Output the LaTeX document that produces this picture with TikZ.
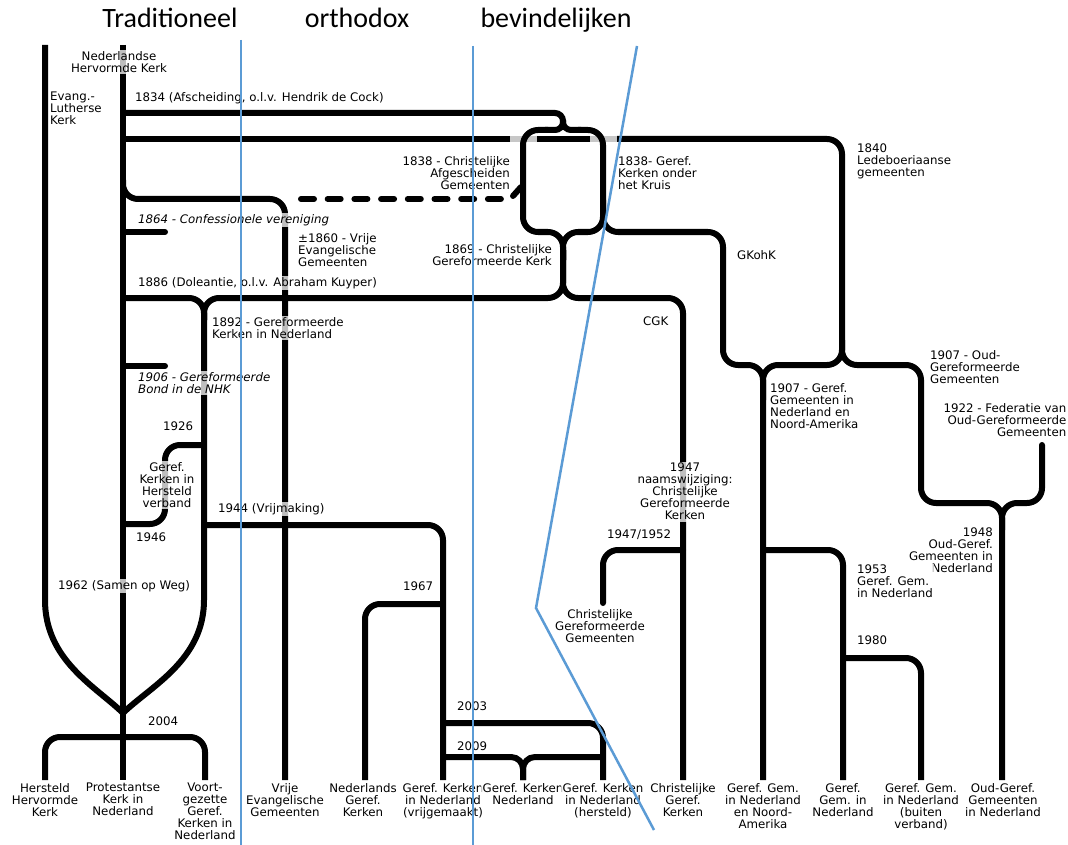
\documentclass[tikz,border=0pt]{standalone}
\usepackage{fontspec}
\setmainfont{DejaVu Sans}
\newfontfamily\headfont{Carlito}
\newcommand\lblfont{\fontsize{11.8}{12}\selectfont}
\definecolor{bl}{HTML}{5B9BD5}
\definecolor{halo}{gray}{0.78}
\begin{document}
\begin{tikzpicture}[x=1pt,y=-1pt,
  ln/.style={line width=6pt},
  rc/.style={line width=6pt, rounded corners=15pt},
  lb/.style={font=\lblfont, inner sep=1.5pt, fill=white, fill opacity=0.75, text opacity=1},
  lbl/.style={lb, anchor=north west, align=left},
  lbr/.style={lb, anchor=north east, align=right},
  lbc/.style={lb, anchor=north, align=center},
  bline/.style={line width=2.5pt, draw=bl},
  hd/.style={font=\headfont\fontsize{28}{30}\selectfont, anchor=base, inner sep=0pt}]
\fill[white] (0,0) rectangle (1068,845);
\useasboundingbox (0,0) rectangle (1068,845);

% main trunks
\draw[ln] (45,45) -- (45,600) .. controls (45,660) and (95,686) .. (123,713);
\draw[ln] (123,45) -- (123,780);
\draw[ln] (204,310) -- (204,600) .. controls (204,660) and (151,686) .. (123,713);

% 1840 Ledeboer line
\draw[ln] (123,139) -- (510,139);
\draw[ln, halo] (510,139) -- (537,139);
\draw[ln] (537,139) -- (590,139);
\draw[ln, halo] (590,139) -- (617,139);
\draw[rc] (617,139) -- (842,139) -- (842,365) -- (763,365) -- (763,400);
\draw[rc] (842,340) -- (842,365) -- (921,365) -- (921,503) -- (1002,503) -- (1002,780);
\draw[rc, line cap=round] (1042,445) -- (1042,503) -- (1002,503) -- (1002,530);

% 1834 and bracket
\draw[ln, rounded corners=8pt] (123,113) -- (563,113) -- (563,130) -- (545,130);
\draw[ln, rounded corners=8pt] (563,120) -- (563,130) -- (581,130);
\draw[rc] (548,130) -- (523,130) -- (523,232) -- (563,232) -- (563,260);
\draw[rc] (578,130) -- (603,130) -- (603,232) -- (563,232) -- (563,260);
% GKohK
\draw[rc] (603,200) -- (603,232) -- (723,232) -- (723,365) -- (763,365) -- (763,780);
% 1886 / CGK
\draw[rc] (123,298) -- (204,298) -- (204,320);
\draw[rc] (563,250) -- (563,298) -- (204,298) -- (204,320);
\draw[rc] (563,250) -- (563,298) -- (683,298) -- (683,780);
\draw[rc, line cap=round] (683,550) -- (603,550) -- (603,603);
% right side
\draw[rc] (763,550) -- (843,550) -- (843,780);
\draw[rc] (843,658) -- (921,658) -- (921,780);
% VEG
\draw[rc] (123,180) -- (123,199) -- (285,199) -- (285,780);
\draw[ln, line cap=round, dash pattern=on 13pt off 13.7pt] (301,199) -- (502,199);
\draw[ln, line cap=round] (513,196) -- (521,187);
% stubs
\draw[ln, line cap=round] (123,232) -- (165,232);
\draw[ln, line cap=round] (123,366) -- (165,366);
% loop 1926-1946
\draw[rc] (204,445) -- (165,445) -- (165,524) -- (123,524);
% 1944, 1967, 2003, 2009
\draw[rc] (204,525) -- (443,525) -- (443,780);
\draw[rc] (443,604) -- (365,604) -- (365,780);
\draw[rc] (443,723) -- (603,723) -- (603,780);
\draw[ln, rounded corners=12pt] (443,757) -- (523,757) -- (523,780);
\draw[ln, rounded corners=12pt] (603,757) -- (523,757) -- (523,780);
% 2004
\draw[rc] (123,737) -- (45,737) -- (45,780);
\draw[rc] (123,737) -- (205,737) -- (205,780);

% labels
\node[lbc] (nhk) at (119,49.5) {Nederlandse\\Hervormde Kerk};
\node[lbl] (elk) at (48.5,90.5) {Evang.-\\Lutherse\\Kerk};
\node[lbl] (l1834) at (133.5,90.5) {1834 (Afscheiding, o.l.v. Hendrik de Cock)};
\node[lbr] (l1838a) at (511.5,154.5) {1838 - Christelijke\\Afgescheiden\\Gemeenten};
\node[lbl] (l1838b) at (616.5,154.5) {1838- Geref.\\Kerken onder\\het Kruis};
\node[lbl] (l1840) at (855.5,142.5) {1840\\Ledeboeriaanse\\gemeenten};
\node[lbl, font=\lblfont\itshape] (l1864) at (136.5,212.5) {1864 - Confessionele vereniging};
\node[lbl] (l1860) at (296.5,231.5) {±1860 - Vrije\\Evangelische\\Gemeenten};
\node[lbr] (l1869) at (553.5,242.5) {1869 - Christelijke\\Gereformeerde Kerk};
\node[lbl] (l1886) at (136.5,275.5) {1886 (Doleantie, o.l.v. Abraham Kuyper)};
\node[lbl] (gkohk) at (735.5,248.5) {GKohK};
\node[lbl] (cgk) at (641.5,315.5) {CGK};
\node[lbl] (l1892) at (210.5,315.5) {1892 - Gereformeerde\\Kerken in Nederland};
\node[lbl, font=\lblfont\itshape] (l1906) at (136.5,370.5) {1906 - Gereformeerde\\Bond in de NHK};
\node[lbl] (l1926) at (161.5,420.5) {1926};
\node[lbc] (ghv) at (167,460.5) {Geref.\\Kerken in\\Hersteld\\verband};
\node[lbl] (l1946) at (134.5,531.5) {1946};
\node[lbl] (l1944) at (216.5,501.5) {1944 (Vrijmaking)};
\node[lbl] (l1962) at (56.5,578.5) {1962 (Samen op Weg)};
\node[lbl] (l2004) at (146.5,715.5) {2004};
\node[lbl] (l2003) at (455.5,700.5) {2003};
\node[lbl] (l2009) at (455.5,740.5) {2009};
\node[lbl] (l1967) at (401.5,580.5) {1967};
\node[lbc] (l1947) at (685,461.5) {1947\\naamswijziging:\\Christelijke\\Gereformeerde\\Kerken};
\node[lbl] (l1952) at (605.5,528.5) {1947/1952};
\node[lbc] (cggem) at (600,607.5) {Christelijke\\Gereformeerde\\Gemeenten};
\node[lbl] (l1907a) at (768.5,381.5) {1907 - Geref.\\Gemeenten in\\Nederland en\\Noord-Amerika};
\node[lbl] (l1907b) at (928.5,348.5) {1907 - Oud-\\Gereformeerde\\Gemeenten};
\node[lbr] (l1922) at (1068,401.5) {1922 - Federatie van\\Oud-Gereformeerde\\Gemeenten};
\node[lbr] (l1948) at (994.5,526.5) {1948\\Oud-Geref.\\Gemeenten in\\Nederland};
\node[lbl] (l1953) at (855.5,563.5) {1953\\Geref. Gem.\\in Nederland};
\node[lbl] (l1980) at (855.5,634.5) {1980};

% bottom labels
\node[lbc] (b1) at (45,781.5) {Hersteld\\Hervormde\\Kerk};
\node[lbc] (b2) at (123,781.5) {Protestantse\\Kerk in\\Nederland};
\node[lbc] (b3) at (205,781.5) {Voort-\\gezette\\Geref.\\Kerken in\\Nederland};
\node[lbc] (b4) at (285,781.5) {Vrije\\Evangelische\\Gemeenten};
\node[lbc] (b5) at (363,781.5) {Nederlands\\Geref.\\Kerken};
\node[lbc] (b6) at (443,781.5) {Geref. Kerken\\in Nederland\\(vrijgemaakt)};
\node[lbc] (b7) at (523,781.5) {Geref. Kerken\\Nederland};
\node[lbc] (b8) at (603,781.5) {Geref. Kerken\\in Nederland\\(hersteld)};
\node[lbc] (b9) at (683,781.5) {Christelijke\\Geref.\\Kerken};
\node[lbc] (b10) at (763,781.5) {Geref. Gem.\\in Nederland\\en Noord-\\Amerika};
\node[lbc] (b11) at (843,781.5) {Geref.\\Gem. in\\Nederland};
\node[lbc] (b12) at (921,781.5) {Geref. Gem.\\in Nederland\\(buiten\\verband)};
\node[lbc] (b13) at (1003,781.5) {Oud-Geref.\\Gemeenten\\in Nederland};

% blue dividers
\draw[bline] (241,40) -- (241,845);
\draw[bline] (473,46) -- (473,845);
\draw[bline] (637,46) -- (536,608) -- (654,830);

% headers
\node[hd] (h1) at (170,28) {Traditioneel};
\node[hd] (h2) at (357,28) {orthodox};
\node[hd] (h3) at (556,28) {bevindelijken};
\end{tikzpicture}
\end{document}
